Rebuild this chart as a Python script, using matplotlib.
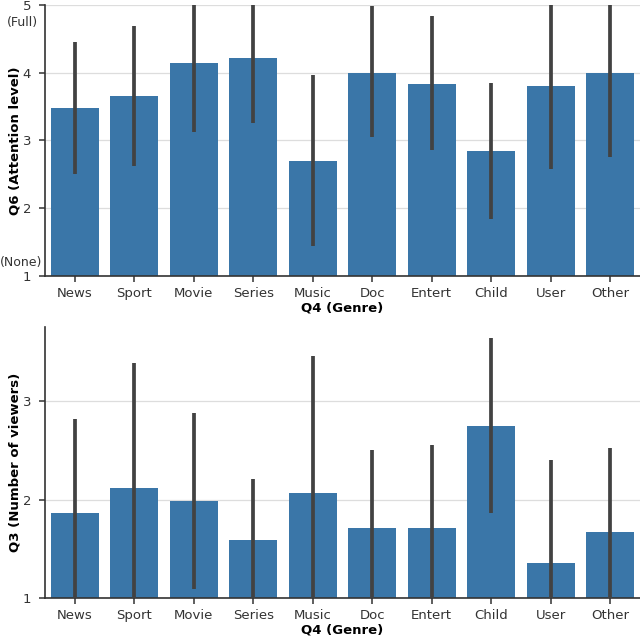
import numpy as np
import matplotlib
matplotlib.use("Agg")
import matplotlib.pyplot as plt

genres = ["News", "Sport", "Movie", "Series", "Music", "Doc", "Entert", "Child", "User", "Other"]

# Q6 attention level: mean and CI bounds
q6_mean = [3.48, 3.65, 4.15, 4.22, 2.69, 4.00, 3.84, 2.85, 3.80, 4.00]
q6_low = [2.51, 2.62, 3.13, 3.26, 1.44, 3.05, 2.86, 1.84, 2.58, 2.76]
q6_high = [4.46, 4.69, 5.20, 5.20, 3.96, 4.98, 4.84, 3.85, 5.20, 5.20]

# Q3 number of viewers: mean and CI bounds
q3_mean = [1.86, 2.12, 1.98, 1.59, 2.07, 1.71, 1.71, 2.75, 1.35, 1.67]
q3_low = [0.90, 0.90, 1.09, 0.90, 0.90, 0.90, 0.90, 1.86, 0.90, 0.90]
q3_high = [2.82, 3.39, 2.88, 2.21, 3.46, 2.50, 2.56, 3.64, 2.40, 2.52]

BAR = "#3a76a8"
ERR = "#424242"

fig = plt.figure(figsize=(6.4, 6.38), dpi=100)
W, H = 640, 638
ax1 = fig.add_axes([45 / W, 1 - 275.7 / H, (640 - 45) / W, (275.7 - 5) / H])
ax2 = fig.add_axes([45 / W, 1 - 597.7 / H, (640 - 45) / W, (597.7 - 326.7) / H])

def draw(ax, mean, low, high, ylabel, ylim, yticks):
    x = np.arange(len(genres))
    ax.bar(x, mean, width=0.8, color=BAR, zorder=2)
    for xi, lo, hi in zip(x, low, high):
        ax.plot([xi, xi], [lo, hi], color=ERR, lw=2.7, zorder=3, solid_capstyle="butt")
    ax.set_xlim(-0.5, 9.5)
    ax.set_ylim(*ylim)
    ax.set_yticks(yticks)
    ax.set_xticks(x)
    ax.set_xticklabels(genres)
    ax.yaxis.grid(True, color="#dddddd", lw=0.9, zorder=0)
    ax.set_axisbelow(True)
    for s in ["top", "right"]:
        ax.spines[s].set_visible(False)
    for s in ["left", "bottom"]:
        ax.spines[s].set_color("#333333")
        ax.spines[s].set_linewidth(1.2)
    ax.tick_params(axis="y", labelsize=9.5, colors="#333333", length=4, width=1.1, pad=6)
    ax.tick_params(axis="x", labelsize=9.5, colors="#333333", length=4, width=1.1, pad=4)
    ax.set_xlabel("Q4 (Genre)", fontsize=9.5, fontweight="bold", labelpad=1)
    ax.set_ylabel(ylabel, fontsize=9.5, fontweight="bold")
    ax.yaxis.set_label_coords(-23 / 595, 0.5)

draw(ax1, q6_mean, q6_low, q6_high, "Q6 (Attention level)", (1, 5), [1, 2, 3, 4, 5])
draw(ax2, q3_mean, q3_low, q3_high, "Q3 (Number of viewers)", (1, 3.76), [1, 2, 3])

tr = ax1.get_yaxis_transform()
ax1.text(-7 / 595, 4.74, "(Full)", transform=tr, ha="right", va="center", fontsize=9, color="#333333")
ax1.text(-3 / 595, 1.2, "(None)", transform=tr, ha="right", va="center", fontsize=9, color="#333333")

fig.savefig("out.png", dpi=100)
